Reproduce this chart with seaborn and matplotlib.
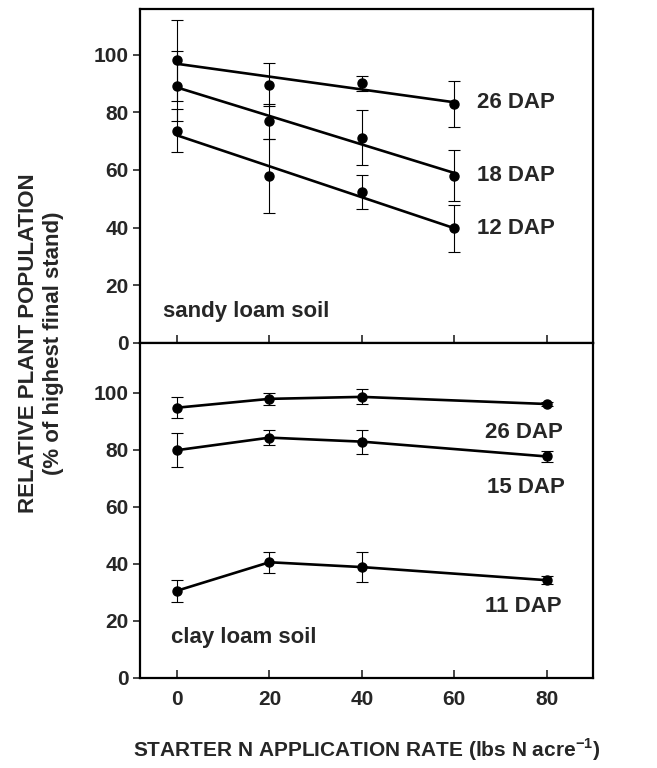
import matplotlib
matplotlib.use("Agg")
import matplotlib.pyplot as plt
import seaborn as sns
import pandas as pd
import numpy as np

# sandy loam soil (top panel)
sandy_rate = [0, 20, 40, 60]
sandy_26 = [98.0, 89.5, 90.0, 83.0]
sandy_26_err = [14.0, 7.5, 2.5, 8.0]
sandy_18 = [89.1, 76.8, 71.2, 58.0]
sandy_18_err = [12.0, 6.0, 9.5, 8.8]
sandy_12 = [73.6, 58.0, 52.3, 39.7]
sandy_12_err = [7.5, 12.8, 6.0, 8.0]

# clay loam soil (bottom panel)
clay_rate = [0, 20, 40, 80]
clay_26 = [94.8, 97.9, 98.6, 96.1]
clay_26_err = [3.6, 2.1, 2.6, 0.8]
clay_15 = [79.9, 84.3, 82.9, 77.7]
clay_15_err = [6.0, 2.7, 4.2, 2.0]
clay_11 = [30.6, 40.6, 38.9, 34.3]
clay_11_err = [3.9, 3.6, 5.3, 1.5]

x_ticks = [0, 20, 40, 60, 80]
y_ticks = [0, 20, 40, 60, 80, 100]


def long_frame(rate, series):
    rows = []
    for name, (vals, errs) in series.items():
        for r, v, e in zip(rate, vals, errs):
            rows.append({"rate": r, "value": v, "err": e, "series": name})
    return pd.DataFrame(rows)


sandy = long_frame(sandy_rate, {"26 DAP": (sandy_26, sandy_26_err),
                                "18 DAP": (sandy_18, sandy_18_err),
                                "12 DAP": (sandy_12, sandy_12_err)})
clay = long_frame(clay_rate, {"26 DAP": (clay_26, clay_26_err),
                              "15 DAP": (clay_15, clay_15_err),
                              "11 DAP": (clay_11, clay_11_err)})

sns.set_style("white")
plt.rcParams["font.family"] = ["Liberation Sans", "DejaVu Sans"]
plt.rcParams["font.weight"] = "bold"
plt.rcParams["mathtext.fontset"] = "custom"
plt.rcParams["mathtext.rm"] = "Liberation Sans:bold"
plt.rcParams["mathtext.bf"] = "Liberation Sans:bold"

fig = plt.figure(figsize=(6.57, 7.68), dpi=100)
ax_top = fig.add_axes([0.213, 0.5534, 0.6896, 0.4349])
ax_bot = fig.add_axes([0.213, 0.1172, 0.6896, 0.4362])

# top: points + linear fits
for name, grp in sandy.groupby("series", sort=False):
    ax_top.errorbar(grp["rate"], grp["value"], yerr=grp["err"], fmt="o",
                    color="black", ms=6.5, elinewidth=0.8, capsize=4, capthick=0.8)
    sns.regplot(data=grp, x="rate", y="value", ax=ax_top, scatter=False,
                ci=None, color="black", line_kws={"lw": 1.9})

# bottom: connected points
sns.lineplot(data=clay, x="rate", y="value", units="series", estimator=None,
             color="black", lw=1.9, ax=ax_bot)
for name, grp in clay.groupby("series", sort=False):
    ax_bot.errorbar(grp["rate"], grp["value"], yerr=grp["err"], fmt="o",
                    color="black", ms=6.5, elinewidth=0.8, capsize=4, capthick=0.8)

for ax, ymax in [(ax_top, 115.8), (ax_bot, 117.5)]:
    ax.set_xlim(-8, 90)
    ax.set_ylim(0, ymax)
    ax.set_xticks(x_ticks)
    ax.set_yticks(y_ticks)
    ax.set_xlabel("")
    ax.set_ylabel("")
    for s in ax.spines.values():
        s.set_linewidth(1.6)
        s.set_color("black")
    ax.tick_params(axis="x", direction="in", length=6, width=1.2, pad=9,
                   labelsize=15, bottom=True)
    ax.tick_params(axis="y", direction="out", length=5, width=1.2, pad=3,
                   labelsize=15, left=True)
    for lbl in ax.get_xticklabels() + ax.get_yticklabels():
        lbl.set_fontweight("bold")

ax_top.tick_params(axis="x", labelbottom=False)

# annotations
ax_top.text(65, 83.5, "26 DAP", fontsize=16, fontweight="bold", va="center")
ax_top.text(65, 58.2, "18 DAP", fontsize=16, fontweight="bold", va="center")
ax_top.text(65, 39.6, "12 DAP", fontsize=16, fontweight="bold", va="center")
ax_top.text(-3.1, 10.8, "sandy loam soil", fontsize=16, fontweight="bold", va="center")

ax_bot.text(66.6, 86.0, "26 DAP", fontsize=16, fontweight="bold", va="center")
ax_bot.text(67.0, 66.9, "15 DAP", fontsize=16, fontweight="bold", va="center")
ax_bot.text(66.6, 25.1, "11 DAP", fontsize=16, fontweight="bold", va="center")
ax_bot.text(-1.3, 14.2, "clay loam soil", fontsize=16, fontweight="bold", va="center")

fig.text(0.043, 0.5534, "RELATIVE PLANT POPULATION", rotation=90,
         fontsize=16, fontweight="bold", ha="center", va="center")
fig.text(0.082, 0.5534, "(% of highest final stand)", rotation=90,
         fontsize=16, fontweight="bold", ha="center", va="center")
fig.text(0.5588, 0.024, r"STARTER N APPLICATION RATE (lbs N acre$^{\mathbf{-1}}$)",
         fontsize=15, fontweight="bold", ha="center", va="center")

fig.savefig("out.png", dpi=100)
